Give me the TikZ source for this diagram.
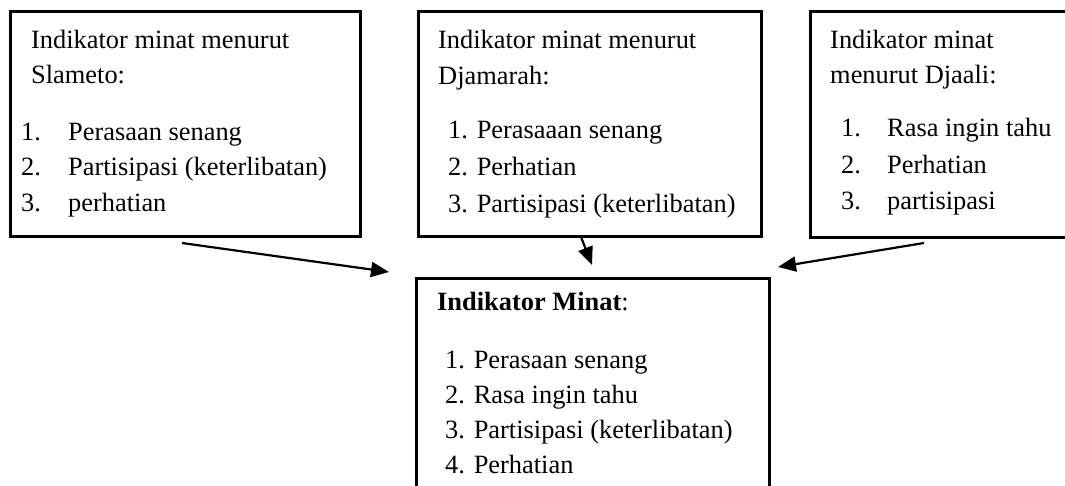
\documentclass[tikz,border=0pt]{standalone}
\usepackage{fontspec}
\setmainfont{Liberation Serif}
\usetikzlibrary{arrows.meta}
\begin{document}
\begin{tikzpicture}[x=1pt,y=-1pt,
  box/.style={draw, line width=2.8pt, anchor=north west, inner sep=0pt},
  txt/.style={anchor=base west, inner sep=0pt, font=\fontsize{26.4}{35}\selectfont},
  arr/.style={line width=2.2pt, -{Triangle[length=18pt,width=15pt]}}]
\useasboundingbox (0,0) rectangle (1065,485);
\clip (0,0) rectangle (1065,485);
% boxes
\node[box, minimum width=350pt, minimum height=225pt] (b1) at (9,10) {};
\node[box, minimum width=343pt, minimum height=225pt] (b2) at (417,10) {};
\node[box, minimum width=270pt, minimum height=226pt] (b3) at (809,10) {};
\node[box, minimum width=353pt, minimum height=240pt] (b4) at (415,277) {};
% box 1 text
\node[txt] (t1a) at (31,48) {Indikator minat menurut};
\node[txt] (t1b) at (31,83) {Slameto:};
\node[txt] (n11) at (21,140) {1.};
\node[txt] (i11) at (68,140) {Perasaan senang};
\node[txt] (n12) at (21,175) {2.};
\node[txt] (i12) at (68,175) {Partisipasi (keterlibatan)};
\node[txt] (n13) at (21,211) {3.};
\node[txt] (i13) at (68,211) {perhatian};
% box 2 text
\node[txt] (t2a) at (438,48) {Indikator minat menurut};
\node[txt] (t2b) at (438,84) {Djamarah:};
\node[txt] (i21) at (448,138) {1. Perasaaan senang};
\node[txt] (i22) at (448,175) {2. Perhatian};
\node[txt] (i23) at (448,212) {3. Partisipasi (keterlibatan)};
% box 3 text
\node[txt] (t3a) at (830,48) {Indikator minat};
\node[txt] (t3b) at (830,83) {menurut Djaali:};
\node[txt] (n31) at (841,136) {1.};
\node[txt] (i31) at (887,136) {Rasa ingin tahu};
\node[txt] (n32) at (841,173) {2.};
\node[txt] (i32) at (887,173) {Perhatian};
\node[txt] (n33) at (841,209) {3.};
\node[txt] (i33) at (887,209) {partisipasi};
% box 4 text
\node[txt] (t4) at (437,310) {\textbf{Indikator Minat}:};
\node[txt] (i41) at (445,368) {1. Perasaan senang};
\node[txt] (i42) at (445,403) {2. Rasa ingin tahu};
\node[txt] (i43) at (445,438) {3. Partisipasi (keterlibatan)};
\node[txt] (i44) at (445,473) {4. Perhatian};
% arrows
\coordinate (a1s) at (182,243);
\coordinate (a1e) at (389,272);
\coordinate (a2s) at (581,237);
\coordinate (a2e) at (592,265);
\coordinate (a3s) at (924,243);
\coordinate (a3e) at (778,267);
\draw[arr] (a1s) -- (a1e);
\draw[arr] (a2s) -- (a2e);
\draw[arr] (a3s) -- (a3e);
\end{tikzpicture}
\end{document}
